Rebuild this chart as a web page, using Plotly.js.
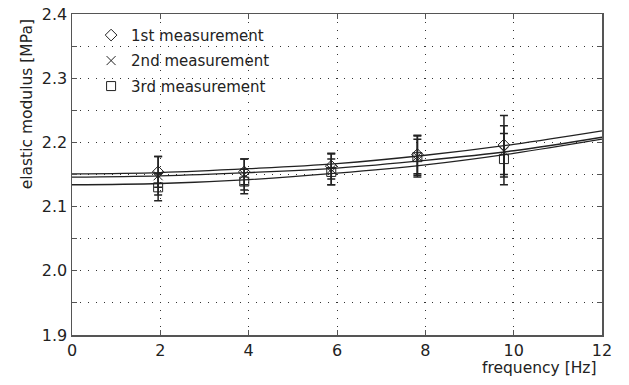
<!DOCTYPE html>
<html>
<head>
<meta charset="utf-8">
<script src="https://cdn.plot.ly/plotly-3.0.1.min.js"></script>
<style>html,body{margin:0;padding:0;background:#fff;}#chart{width:629px;height:385px;}</style>
</head>
<body>
<div id="chart"></div>
<script>
// Measured data
var freq = [1.95, 3.9, 5.87, 7.82, 9.78];
var meas1 = [2.154, 2.154, 2.163, 2.181, 2.196];
var meas2 = [2.148, 2.150, 2.158, 2.178, 2.186];
var meas3 = [2.130, 2.139, 2.154, 2.177, 2.174];
var err1 = [0.024, 0.020, 0.020, 0.030, 0.046];
var err2 = [0.030, 0.024, 0.024, 0.032, 0.040];
var err3 = [0.021, 0.019, 0.020, 0.028, 0.040];
// Fitted curves
var fitFreq = [0, 2, 4, 6, 8, 10, 12];
var fit1 = [2.151, 2.153, 2.159, 2.167, 2.180, 2.197, 2.218];
var fit2 = [2.146, 2.148, 2.153, 2.160, 2.172, 2.187, 2.208];
var fit3 = [2.134, 2.136, 2.142, 2.152, 2.165, 2.183, 2.205];
var seriesNames = ['1st measurement', '2nd measurement', '3rd measurement'];

var FONT = 'DejaVu Sans, Liberation Sans, Arial, sans-serif';
var ink = '#222';

function fitTrace(y) {
  return {x: fitFreq, y: y, type: 'scatter', mode: 'lines', showlegend: false,
          line: {color: ink, width: 1.3, shape: 'spline'}, hoverinfo: 'skip'};
}
function measTrace(y, e, name, symbol, grp) {
  return {x: freq, y: y, type: 'scatter', mode: 'markers', name: name, legendgroup: grp,
          marker: {symbol: symbol, size: 9, color: ink, line: {color: ink, width: 1}},
          error_y: {type: 'data', array: e, visible: true, color: ink, thickness: 1.5, width: 4}};
}

var data = [
  fitTrace(fit1), fitTrace(fit2), fitTrace(fit3),
  measTrace(meas1, err1, seriesNames[0], 'diamond-open', 'g1'),
  measTrace(meas2, err2, seriesNames[1], 'x-thin-open', 'g2'),
  measTrace(meas3, err3, seriesNames[2], 'square-open', 'g3')
];

var gridDash = '1px,7px';
var layout = {
  width: 629, height: 385,
  margin: {l: 72, r: 27, t: 14, b: 50},
  paper_bgcolor: '#fff', plot_bgcolor: '#fff',
  font: {family: FONT, size: 15, color: '#222'},
  showlegend: true,
  legend: {x: 0.036, y: 0.985, xanchor: 'left', yanchor: 'top', bgcolor: 'rgba(0,0,0,0)',
           font: {family: FONT, size: 15, color: '#222'}, itemwidth: 30, tracegroupgap: 3},
  xaxis: {
    range: [0, 12], dtick: 2, tick0: 0,
    showline: true, linecolor: '#555', linewidth: 1.5, mirror: 'allticks',
    ticks: 'inside', ticklen: 5, tickcolor: '#555',
    showgrid: true, gridcolor: '#333', griddash: gridDash, gridwidth: 1,
    zeroline: false, tickfont: {family: FONT, size: 16, color: '#222'}
  },
  yaxis: {
    range: [1.9, 2.4], dtick: 0.1, tick0: 1.9, tickformat: '.1f',
    showline: true, linecolor: '#555', linewidth: 1.5, mirror: 'allticks',
    ticks: 'inside', ticklen: 5, tickcolor: '#555',
    showgrid: true, gridcolor: '#333', griddash: gridDash, gridwidth: 1,
    minor: {dtick: 0.05, tick0: 1.9, showgrid: true, gridcolor: '#333', griddash: gridDash, gridwidth: 1,
            ticks: 'inside', ticklen: 5, tickcolor: '#555'},
    zeroline: false, tickfont: {family: FONT, size: 16, color: '#222'}
  },
  annotations: [
    {text: 'frequency [Hz]', xref: 'paper', yref: 'paper', x: 0.995, y: -0.068, xanchor: 'right', yanchor: 'top',
     showarrow: false, font: {family: FONT, size: 15.5, color: '#222'}},
    {text: 'elastic modulus [MPa]', xref: 'paper', yref: 'paper', x: -0.086, y: 0.72, xanchor: 'center', yanchor: 'middle',
     textangle: -90, showarrow: false, font: {family: FONT, size: 15.5, color: '#222'}}
  ]
};

Plotly.newPlot('chart', data, layout, {displayModeBar: false, staticPlot: true});
</script>
</body>
</html>
